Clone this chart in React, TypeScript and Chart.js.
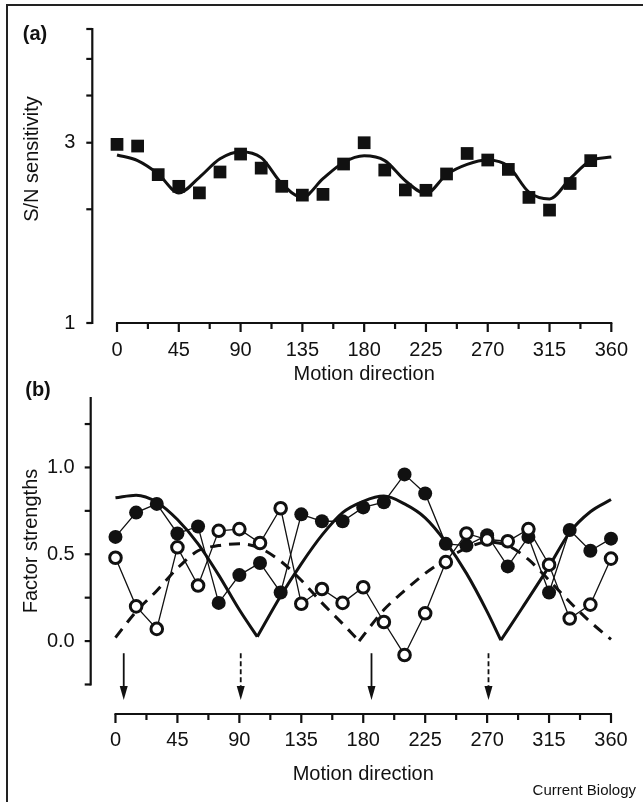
import { useEffect, useRef } from 'react';
import { Chart, registerables } from 'chart.js';

Chart.register(...registerables);

const FONT = '"Liberation Sans", Arial, Helvetica, sans-serif';
const INK = '#111111';

// ---------- Panel (a) ----------
const sensDirections = [0, 15, 30, 45, 60, 75, 90, 105, 120, 135, 150, 165, 180, 195, 210, 225, 240, 255, 270, 285, 300, 315, 330, 345];
const sensValues = [2.97, 2.94, 2.47, 2.30, 2.21, 2.51, 2.80, 2.57, 2.30, 2.18, 2.19, 2.635, 3.0, 2.54, 2.25, 2.245, 2.48, 2.81, 2.70, 2.55, 2.15, 1.99, 2.34, 2.69];
const sensFitDirections = [0, 15, 30, 45, 60, 75, 90, 105, 120, 135, 150, 165, 180, 195, 210, 225, 240, 255, 270, 285, 300, 315, 330, 345, 360];
const sensFitValues = [2.785, 2.69, 2.48, 2.21, 2.43, 2.72, 2.84, 2.74, 2.34, 2.15, 2.41, 2.66, 2.77, 2.69, 2.38, 2.20, 2.47, 2.63, 2.70, 2.60, 2.22, 2.13, 2.41, 2.69, 2.75];
const sensTicks = [1, 2, 3, 4, 5, 6];
const sensLabelled = [1, 3];

// ---------- Panel (b) ----------
const strengthDirections = [0, 15, 30, 45, 60, 75, 90, 105, 120, 135, 150, 165, 180, 195, 210, 225, 240, 255, 270, 285, 300, 315, 330, 345, 360];
const filledStrength = [0.60, 0.74, 0.79, 0.62, 0.66, 0.22, 0.38, 0.45, 0.28, 0.73, 0.69, 0.69, 0.77, 0.80, 0.96, 0.85, 0.56, 0.55, 0.61, 0.43, 0.60, 0.28, 0.64, 0.52, 0.59];
const openStrength = [0.48, 0.20, 0.07, 0.54, 0.32, 0.635, 0.645, 0.565, 0.765, 0.215, 0.30, 0.22, 0.31, 0.11, -0.08, 0.16, 0.455, 0.62, 0.585, 0.575, 0.645, 0.44, 0.13, 0.21, 0.475];
const solidFitDirections = [0, 15, 30, 45, 60, 75, 90, 103, 120, 135, 150, 165, 180, 195, 210, 225, 240, 255, 270, 280, 295, 315, 330, 345, 360];
const solidFitValues = [0.825, 0.84, 0.80, 0.70, 0.56, 0.38, 0.18, 0.025, 0.26, 0.445, 0.61, 0.74, 0.805, 0.835, 0.79, 0.71, 0.57, 0.39, 0.17, 0.005, 0.185, 0.43, 0.626, 0.745, 0.815];
const solidFitCusps = [103, 280];
const dashedFitDirections = [0, 15, 30, 45, 60, 75, 90, 105, 120, 135, 150, 165, 177, 195, 210, 225, 240, 255, 270, 285, 300, 315, 330, 345, 360];
const dashedFitValues = [0.02, 0.17, 0.29, 0.42, 0.52, 0.55, 0.56, 0.535, 0.46, 0.35, 0.22, 0.10, 0.0, 0.18, 0.29, 0.39, 0.47, 0.535, 0.57, 0.55, 0.47, 0.35, 0.225, 0.11, 0.01];
const dashedFitCusps = [177];
const solidArrowDirections = [6, 186];
const dashedArrowDirections = [91, 271];
const strengthTicks = [-0.25, 0, 0.25, 0.5, 0.75, 1.0, 1.25];
const strengthLabelled = [0, 0.5, 1.0];

const directionTicks = [0, 22.5, 45, 67.5, 90, 112.5, 135, 157.5, 180, 202.5, 225, 247.5, 270, 292.5, 315, 337.5, 360];

type Decor = {
  label: string;
  labelPos: [number, number];
  yTitle: string;
  yTitlePos: [number, number];
  xTitle: string;
  xTitleY: number;
  yAxisRange: [number, number];
  yTickValues: number[];
  arrows?: { dir: number; dashed: boolean }[];
  arrowRange?: [number, number];
  footer?: string;
  footerPos?: [number, number];
};

function makeDecorPlugin(d: Decor) {
  return {
    id: 'panelDecor',
    afterDraw(chart: any) {
      const ctx: CanvasRenderingContext2D = chart.ctx;
      const xs = chart.scales.x;
      const ys = chart.scales.y;
      const area = chart.chartArea;
      ctx.save();
      ctx.strokeStyle = INK;
      ctx.fillStyle = INK;
      ctx.lineWidth = 2.2;
      ctx.setLineDash([]);
      // y axis
      const ax = area.left;
      const yTop = ys.getPixelForValue(d.yAxisRange[1]);
      const yBot = ys.getPixelForValue(d.yAxisRange[0]);
      ctx.beginPath();
      ctx.moveTo(ax, yTop - 1);
      ctx.lineTo(ax, yBot + 1);
      ctx.stroke();
      for (const v of d.yTickValues) {
        const py = ys.getPixelForValue(v);
        ctx.beginPath();
        ctx.moveTo(ax - 6, py);
        ctx.lineTo(ax, py);
        ctx.stroke();
      }
      // x axis
      const by = area.bottom;
      const x0 = xs.getPixelForValue(directionTicks[0]);
      const x1 = xs.getPixelForValue(directionTicks[directionTicks.length - 1]);
      ctx.beginPath();
      ctx.moveTo(x0 - 1, by);
      ctx.lineTo(x1 + 1, by);
      ctx.stroke();
      for (const v of directionTicks) {
        const px = xs.getPixelForValue(v);
        const len = v % 45 === 0 ? 9 : 6;
        ctx.beginPath();
        ctx.moveTo(px, by);
        ctx.lineTo(px, by + len);
        ctx.stroke();
      }
      // arrows
      if (d.arrows && d.arrowRange) {
        const top = ys.getPixelForValue(d.arrowRange[0]);
        const tip = ys.getPixelForValue(d.arrowRange[1]);
        for (const a of d.arrows) {
          const px = xs.getPixelForValue(a.dir);
          ctx.lineWidth = 1.8;
          ctx.setLineDash(a.dashed ? [5, 3] : []);
          ctx.beginPath();
          ctx.moveTo(px, top);
          ctx.lineTo(px, tip - 10);
          ctx.stroke();
          ctx.setLineDash([]);
          ctx.beginPath();
          ctx.moveTo(px - 4, tip - 14);
          ctx.lineTo(px + 4, tip - 14);
          ctx.lineTo(px, tip);
          ctx.closePath();
          ctx.fill();
        }
      }
      // texts
      ctx.textBaseline = 'middle';
      ctx.textAlign = 'center';
      ctx.font = `bold 20px ${FONT}`;
      ctx.fillText(d.label, d.labelPos[0], d.labelPos[1]);
      ctx.font = `20px ${FONT}`;
      const midX = (x0 + x1) / 2;
      ctx.fillText(d.xTitle, midX, d.xTitleY);
      ctx.save();
      ctx.translate(d.yTitlePos[0], d.yTitlePos[1]);
      ctx.rotate(-Math.PI / 2);
      ctx.fillText(d.yTitle, 0, 0);
      ctx.restore();
      if (d.footer && d.footerPos) {
        ctx.font = `15px ${FONT}`;
        ctx.textAlign = 'right';
        ctx.fillText(d.footer, d.footerPos[0], d.footerPos[1]);
      }
      ctx.restore();
    },
  };
}

function splitAt(dirs: number[], vals: number[], cusps: number[]) {
  const segs: { x: number; y: number }[][] = [];
  let cur: { x: number; y: number }[] = [];
  dirs.forEach((d, i) => {
    cur.push({ x: d, y: vals[i] });
    if (cusps.includes(d)) {
      segs.push(cur);
      cur = [{ x: d, y: vals[i] }];
    }
  });
  segs.push(cur);
  return segs;
}

const tickFont = { family: FONT, size: 20 };

function buildConfigA(): any {
  return {
    type: 'line',
    data: {
      datasets: [
        {
          data: sensDirections.map((d, i) => ({ x: d, y: sensValues[i] })),
          showLine: false,
          pointStyle: 'rect',
          pointRadius: 9,
          pointBackgroundColor: INK,
          pointBorderColor: INK,
          pointBorderWidth: 0,
          clip: false,
        },
        {
          data: sensFitDirections.map((d, i) => ({ x: d, y: sensFitValues[i] })),
          borderColor: INK,
          borderWidth: 3,
          pointRadius: 0,
          cubicInterpolationMode: 'monotone',
          fill: false,
          clip: false,
        },
      ],
    },
    options: {
      responsive: false,
      animation: false,
      events: [],
      layout: { padding: { left: 0, right: 643 - 611.7, top: 23.3, bottom: 0 } },
      plugins: { legend: { display: false }, tooltip: { enabled: false } },
      scales: {
        x: {
          type: 'linear',
          min: -18,
          max: 360,
          grid: { display: false, drawTicks: false },
          border: { display: false },
          afterBuildTicks: (s: any) => { s.ticks = directionTicks.map((v) => ({ value: v })); },
          afterFit: (s: any) => { s.height = 395 - 323; },
          ticks: {
            autoSkip: false,
            maxRotation: 0,
            padding: 15,
            color: INK,
            font: tickFont,
            callback: (v: number) => (v % 45 === 0 ? String(v) : ''),
          },
        },
        y: {
          type: 'logarithmic',
          min: 1,
          max: 6,
          grid: { display: false, drawTicks: false },
          border: { display: false },
          afterBuildTicks: (s: any) => { s.ticks = sensTicks.map((v) => ({ value: v })); },
          afterFit: (s: any) => { s.width = 92.3; },
          ticks: {
            autoSkip: false,
            padding: 17,
            color: INK,
            font: tickFont,
            callback: (v: number) => (sensLabelled.includes(v) ? String(v) : ''),
          },
        },
      },
    },
    plugins: [
      makeDecorPlugin({
        label: '(a)',
        labelPos: [35, 34],
        yTitle: 'S/N sensitivity',
        yTitlePos: [32, 159],
        xTitle: 'Motion direction',
        xTitleY: 374,
        yAxisRange: [1, 6],
        yTickValues: sensTicks,
      }),
    ],
  };
}

function buildConfigB(): any {
  const solidSegs = splitAt(solidFitDirections, solidFitValues, solidFitCusps);
  const dashedSegs = splitAt(dashedFitDirections, dashedFitValues, dashedFitCusps);
  const curveBase = {
    borderColor: INK,
    borderWidth: 3,
    pointRadius: 0,
    cubicInterpolationMode: 'monotone',
    fill: false,
    clip: false,
  };
  return {
    type: 'line',
    data: {
      datasets: [
        {
          data: strengthDirections.map((d, i) => ({ x: d, y: openStrength[i] })),
          borderColor: INK,
          borderWidth: 1.3,
          pointRadius: 5.8,
          pointBorderWidth: 3,
          pointBackgroundColor: '#ffffff',
          pointBorderColor: INK,
          tension: 0,
          clip: false,
        },
        {
          data: strengthDirections.map((d, i) => ({ x: d, y: filledStrength[i] })),
          borderColor: INK,
          borderWidth: 1.3,
          pointRadius: 7,
          pointBorderWidth: 0,
          pointBackgroundColor: INK,
          pointBorderColor: INK,
          tension: 0,
          clip: false,
        },
        ...solidSegs.map((seg) => ({ ...curveBase, data: seg })),
        ...dashedSegs.map((seg) => ({ ...curveBase, data: seg, borderDash: [11, 8] })),
      ],
    },
    options: {
      responsive: false,
      animation: false,
      events: [],
      layout: { padding: { left: 0, right: 643 - 611, top: 15, bottom: 0 } },
      plugins: { legend: { display: false }, tooltip: { enabled: false } },
      scales: {
        x: {
          type: 'linear',
          min: -18,
          max: 360,
          grid: { display: false, drawTicks: false },
          border: { display: false },
          afterBuildTicks: (s: any) => { s.ticks = directionTicks.map((v) => ({ value: v })); },
          afterFit: (s: any) => { s.height = 432 - 344; },
          ticks: {
            autoSkip: false,
            maxRotation: 0,
            padding: 14,
            color: INK,
            font: tickFont,
            callback: (v: number) => (v % 45 === 0 ? String(v) : ''),
          },
        },
        y: {
          type: 'linear',
          min: -0.42,
          max: 1.4,
          grid: { display: false, drawTicks: false },
          border: { display: false },
          afterBuildTicks: (s: any) => { s.ticks = strengthTicks.map((v) => ({ value: v })); },
          afterFit: (s: any) => { s.width = 90.7; },
          ticks: {
            autoSkip: false,
            padding: 16,
            color: INK,
            font: tickFont,
            callback: (v: number) => (strengthLabelled.some((l) => Math.abs(l - v) < 1e-9) ? v.toFixed(1) : ''),
          },
        },
      },
    },
    plugins: [
      makeDecorPlugin({
        label: '(b)',
        labelPos: [38, 20],
        yTitle: 'Factor strengths',
        yTitlePos: [31, 171],
        xTitle: 'Motion direction',
        xTitleY: 404,
        yAxisRange: [-0.25, 1.4],
        yTickValues: strengthTicks,
        arrows: [
          ...solidArrowDirections.map((d) => ({ dir: d, dashed: false })),
          ...dashedArrowDirections.map((d) => ({ dir: d, dashed: true })),
        ],
        arrowRange: [-0.07, -0.34],
        footer: 'Current Biology',
        footerPos: [636, 421],
      }),
    ],
  };
}

export default function App() {
  const refA = useRef<HTMLCanvasElement | null>(null);
  const refB = useRef<HTMLCanvasElement | null>(null);

  useEffect(() => {
    const a = new Chart(refA.current as HTMLCanvasElement, buildConfigA());
    const b = new Chart(refB.current as HTMLCanvasElement, buildConfigB());
    return () => {
      a.destroy();
      b.destroy();
    };
  }, []);

  return (
    <div style={{ position: 'absolute', left: 0, top: 0, width: 643, height: 802, background: '#ffffff', overflow: 'hidden' }}>
      <div
        style={{
          position: 'absolute',
          left: 6,
          top: 4,
          right: 0,
          bottom: 0,
          borderLeft: '2px solid #222',
          borderTop: '2px solid #222',
        }}
      />
      <canvas ref={refA} width={643} height={395} style={{ position: 'absolute', left: 0, top: 0, width: 643, height: 395 }} />
      <canvas ref={refB} width={643} height={432} style={{ position: 'absolute', left: 0, top: 370, width: 643, height: 432 }} />
    </div>
  );
}
